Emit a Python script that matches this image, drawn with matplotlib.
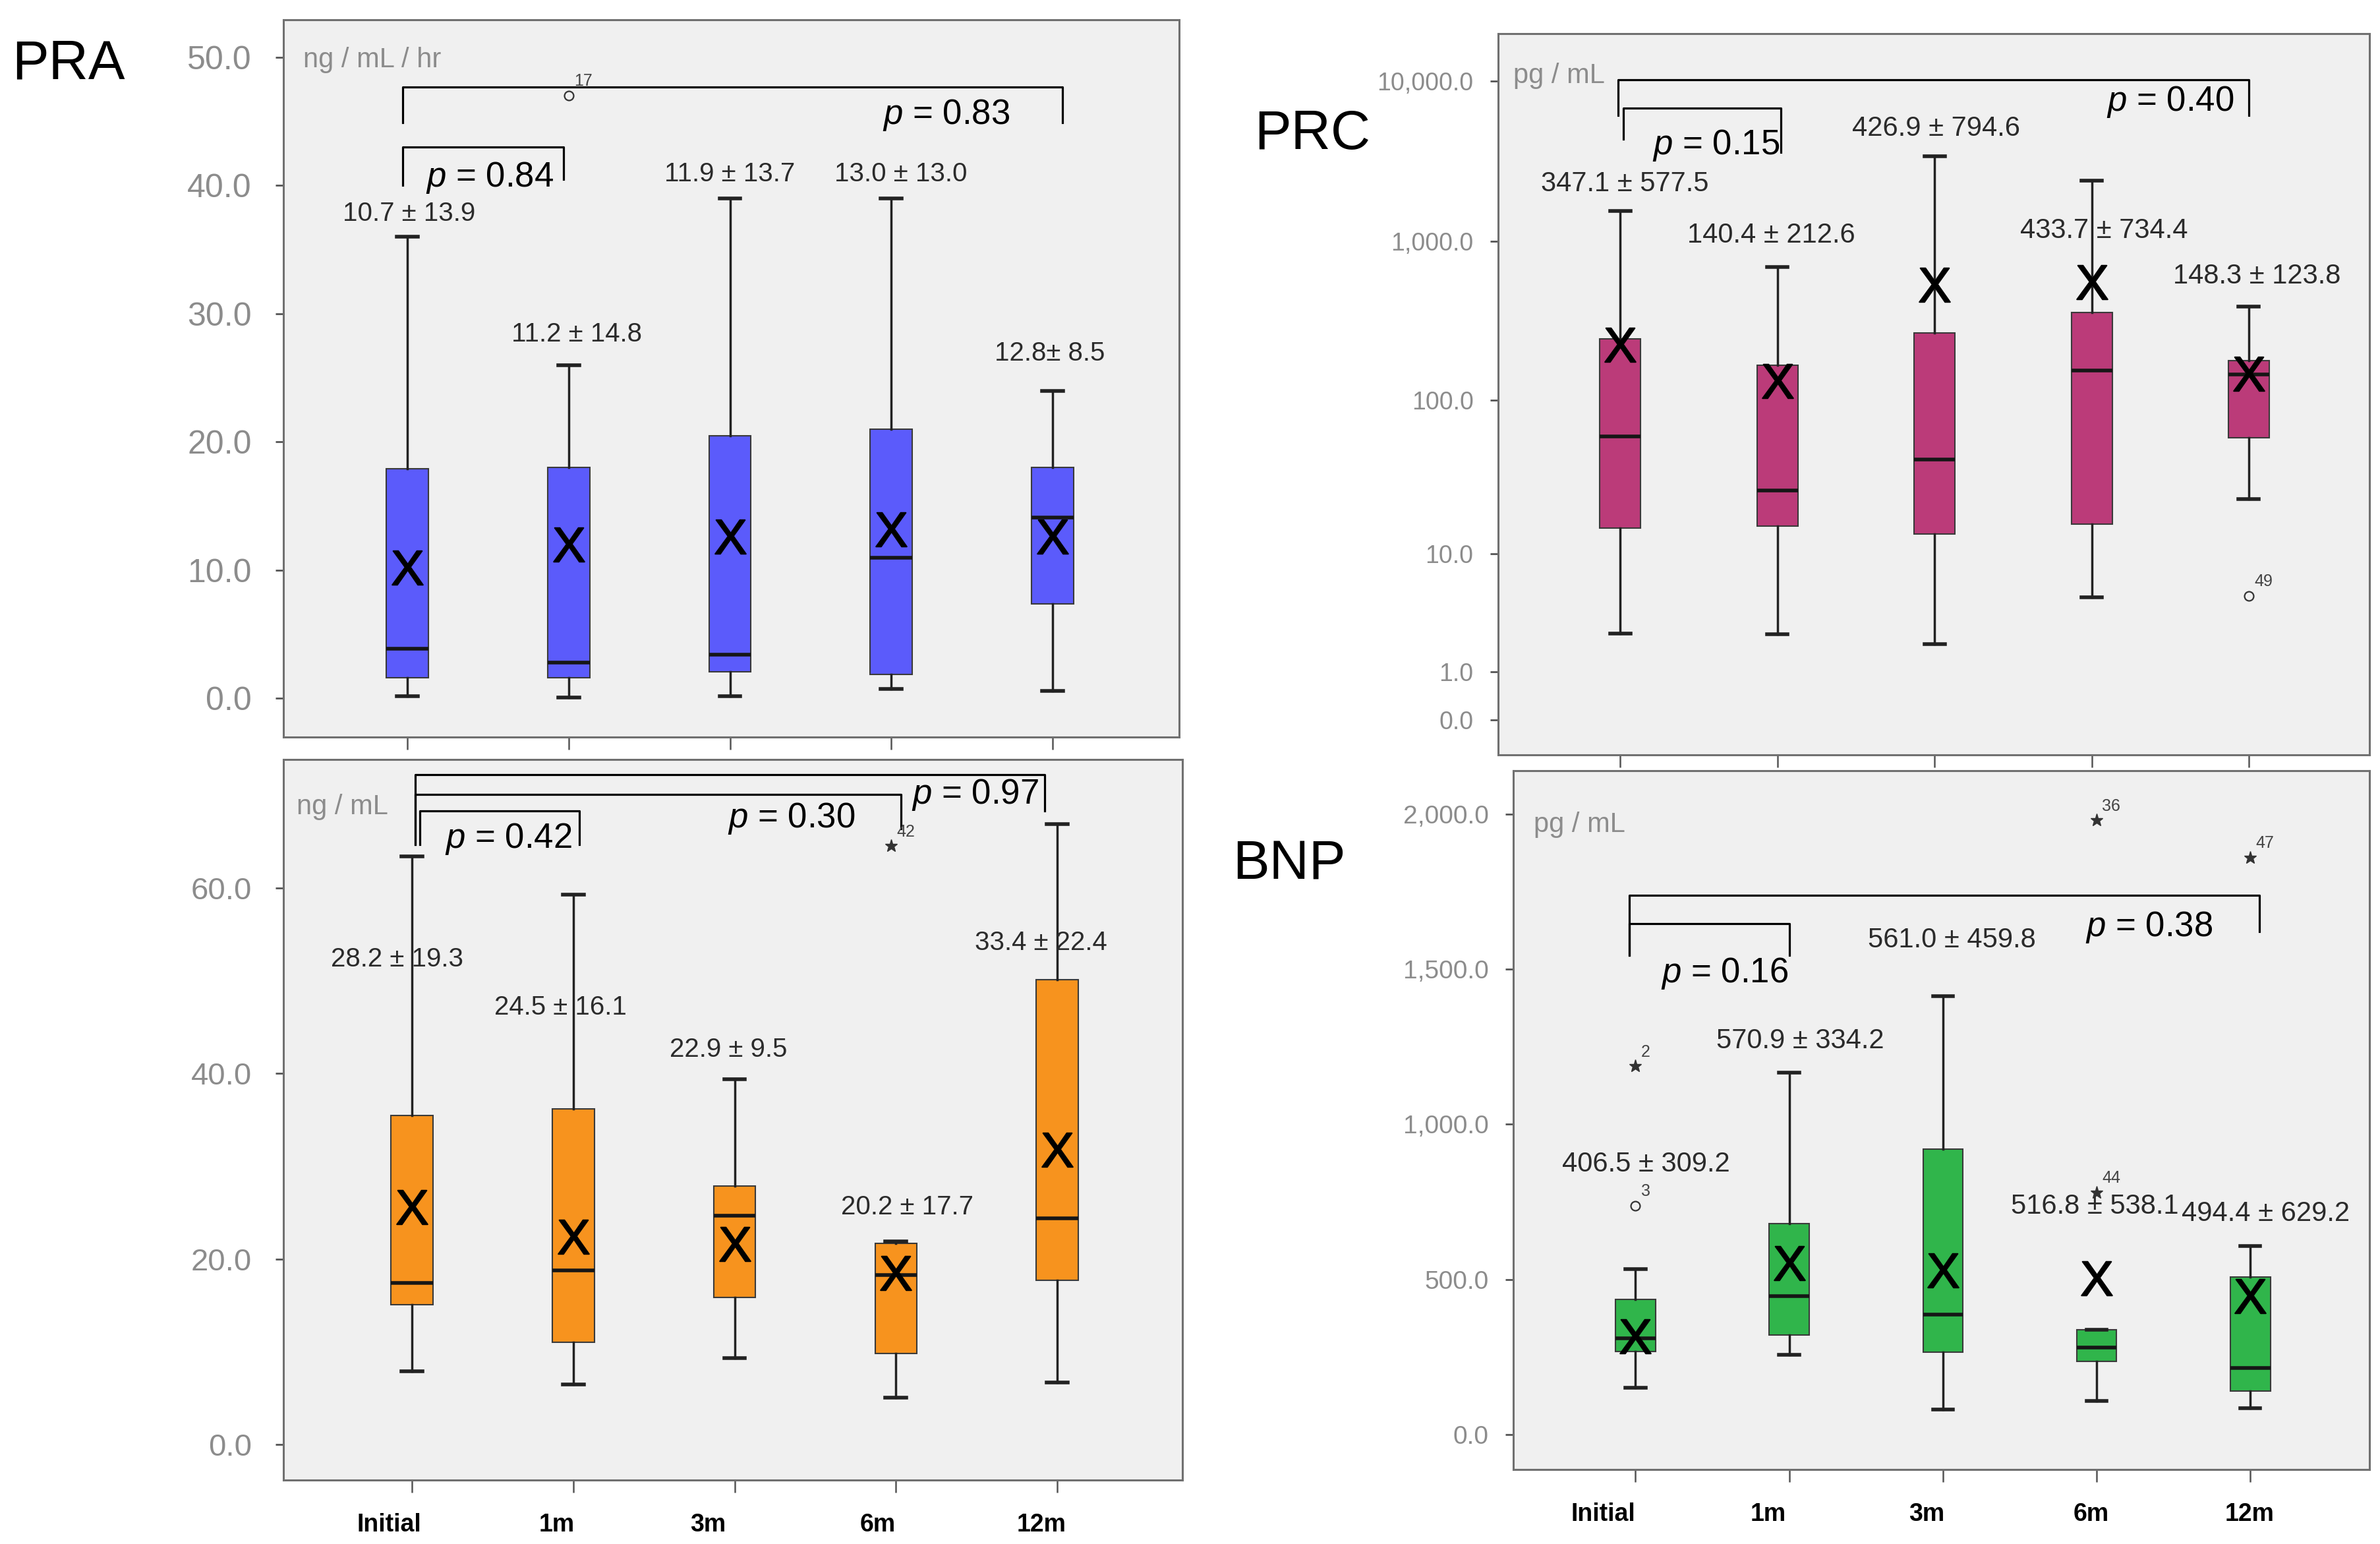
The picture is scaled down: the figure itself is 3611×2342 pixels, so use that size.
import matplotlib
matplotlib.use("Agg")
import matplotlib.pyplot as plt
import matplotlib.transforms as mtransforms
import numpy as np

plt.rcParams['font.family'] = ['Liberation Sans', 'DejaVu Sans']
plt.rcParams['mathtext.fontset'] = 'custom'
plt.rcParams['mathtext.rm'] = 'Liberation Sans'
plt.rcParams['mathtext.it'] = 'Liberation Sans:italic'

groups = ["Initial", "1m", "3m", "6m", "12m"]
pos = [1, 2, 3, 4, 5]

# ---- PRA (ng/mL/hr) ----
pra_lo = [0.2, 0.1, 0.2, 0.75, 0.6]
pra_q1 = [1.6, 1.6, 2.1, 1.9, 7.4]
pra_med = [3.9, 2.8, 3.4, 11.0, 14.1]
pra_q3 = [17.9, 18.0, 20.5, 21.0, 18.0]
pra_hi = [36.0, 26.0, 39.0, 39.0, 24.0]
pra_mean = [10.2, 12.0, 12.6, 13.2, 12.6]
pra_txt = ["10.7 ± 13.9", "11.2 ± 14.8", "11.9 ± 13.7", "13.0 ± 13.0", "12.8± 8.5"]
pra_txt_x = [1.01, 2.05, 3.0, 4.06, 4.98]
pra_txt_y = [37.8, 28.4, 40.9, 40.9, 26.9]
pra_out_x = [2]
pra_out_y = [47.0]
pra_out_m = ['o']
pra_out_lab = ['17']

# ---- PRC (pg/mL), log(x + 1) axis ----
prc_lo = [2.48, 2.44, 1.99, 4.86, 23.3]
prc_q1 = [15.0, 15.4, 13.6, 15.9, 57.6]
prc_med = [58.9, 26.3, 42.0, 154.0, 144.5]
prc_q3 = [242.0, 166.0, 265.0, 355.0, 178.0]
prc_hi = [1537.0, 686.0, 3411.0, 2397.0, 388.0]
prc_mean = [222.0, 132.0, 531.0, 550.0, 146.0]
prc_txt = ["347.1 ± 577.5", "140.4 ± 212.6", "426.9 ± 794.6", "433.7 ± 734.4", "148.3 ± 123.8"]
prc_txt_x = [1.03, 1.96, 3.01, 4.08, 5.05]
prc_txt_y = [2281, 1086, 5070, 1164, 602]
prc_out_x = [5]
prc_out_y = [4.98]
prc_out_m = ['o']
prc_out_lab = ['49']

# ---- lower left (ng/mL) ----
ald_lo = [7.9, 6.5, 9.3, 5.1, 6.7]
ald_q1 = [15.1, 11.0, 15.9, 9.8, 17.7]
ald_med = [17.4, 18.8, 24.7, 18.3, 24.4]
ald_q3 = [35.5, 36.2, 27.9, 21.7, 50.1]
ald_hi = [63.4, 59.3, 39.4, 21.9, 66.9]
ald_mean = [25.6, 22.4, 21.6, 18.5, 31.8]
ald_txt = ["28.2 ± 19.3", "24.5 ± 16.1", "22.9 ± 9.5", "20.2 ± 17.7", "33.4 ± 22.4"]
ald_txt_x = [0.91, 1.92, 2.96, 4.07, 4.90]
ald_txt_y = [52.3, 47.1, 42.6, 25.6, 54.1]
ald_out_x = [3.97]
ald_out_y = [64.5]
ald_out_m = ['*']
ald_out_lab = ['42']

# ---- BNP (pg/mL) ----
bnp_lo = [151, 257, 81, 109, 85]
bnp_q1 = [268, 320, 265, 236, 141]
bnp_med = [309, 447, 387, 280, 215]
bnp_q3 = [436, 680, 919, 338, 507]
bnp_hi = [533, 1167, 1413, 338, 607]
bnp_mean = [317, 553, 528, 504, 447]
bnp_txt = ["406.5 ± 309.2", "570.9 ± 334.2", "561.0 ± 459.8", "516.8 ± 538.1", "494.4 ± 629.2"]
bnp_txt_x = [1.07, 2.07, 3.06, 3.99, 5.10]
bnp_txt_y = [870, 1268, 1593, 735, 711]
bnp_out_x = [1, 1, 4, 4, 5]
bnp_out_y = [737, 1187, 1979, 780, 1859]
bnp_out_m = ['o', '*', '*', '*', '*']
bnp_out_lab = ['3', '2', '36', '44', '47']

# brackets: x0, x1, top, left leg bottom, right leg bottom
pra_br = [(0.97, 5.06, 47.7, 44.9, 44.9), (0.97, 1.97, 43.0, 40.0, 40.5)]
pra_p = [("0.83", 4.34, 45.5), ("0.84", 1.51, 40.6)]
prc_br = [(0.985, 5.0, 10280, 6150, 6150), (1.02, 2.02, 6823, 4354, 3581)]
prc_p = [("0.40", 4.50, 7413), ("0.15", 1.61, 3974)]
ald_br = [(1.02, 4.92, 72.2, 64.7, 68.3), (1.02, 4.03, 70.1, 64.7, 66.4),
          (1.05, 2.04, 68.3, 64.7, 64.7)]
ald_p = [("0.42", 1.60, 65.3), ("0.30", 3.35, 67.5), ("0.97", 4.49, 70.0)]
bnp_br = [(0.96, 5.06, 1737, 1545, 1621), (0.96, 2.0, 1646, 1545, 1545)]
bnp_p = [("0.38", 4.34, 1634), ("0.16", 1.58, 1485)]

BLUE = '#5b5bfb'
MAGENTA = '#bb3b79'
ORANGE = '#f7931e'
GREEN = '#30b54b'
TICKGRAY = '#8c8c8c'


def draw_panel(ax, lo, q1, med, q3, hi, mean, color, txt, tx, ty,
               ox, oy, om, olab, brackets, pvals, txtsize):
    ax.set_facecolor('#f0f0f0')
    stats = []
    for i in range(len(lo)):
        stats.append(dict(whislo=lo[i], q1=q1[i], med=med[i], q3=q3[i],
                          whishi=hi[i], mean=mean[i], fliers=[]))
    ax.bxp(stats, positions=pos, widths=0.26, patch_artist=True,
           showmeans=True, manage_ticks=False,
           boxprops=dict(facecolor=color, edgecolor='#3a3a3a', linewidth=1.5),
           medianprops=dict(color='#161616', linewidth=4),
           whiskerprops=dict(color='#222222', linewidth=2.5),
           capprops=dict(color='#222222', linewidth=4),
           meanprops=dict(marker=r'$\mathrm{X}$', markersize=37,
                          markerfacecolor='black', markeredgecolor='black',
                          markeredgewidth=1.5))
    for i in range(len(txt)):
        ax.text(tx[i], ty[i], txt[i], fontsize=txtsize, color='#2b2b2b',
                ha='center', va='center')
    for i in range(len(ox)):
        if om[i] == 'o':
            ax.plot(ox[i], oy[i], marker='o', ms=10, mfc='none', mec='#333333', mew=1.6)
        else:
            ax.plot(ox[i], oy[i], marker='*', ms=14, color='#333333')
        ax.annotate(olab[i], (ox[i], oy[i]), xytext=(6, 7), textcoords='offset points',
                    fontsize=18, color='#444444', ha='left', va='bottom')
    for x0, x1, top, lb, rb in brackets:
        ax.plot([x0, x0, x1, x1], [lb, top, top, rb], color='black', lw=2.3,
                solid_joinstyle='round')
    for val, px, py in pvals:
        ax.text(px, py, r'$p$ = ' + val, fontsize=38, color='black',
                ha='center', va='center')
    for s in ax.spines.values():
        s.set_color('#707070')
        s.set_linewidth(2.2)
    ax.set_xticks(pos)


fig = plt.figure(figsize=(36.11, 23.42), dpi=100)

ax1 = fig.add_axes([0.1192, 0.5227, 0.3763, 0.4643])
ax2 = fig.add_axes([0.6295, 0.5109, 0.3660, 0.4674])
ax3 = fig.add_axes([0.1192, 0.0415, 0.3776, 0.4664])
ax4 = fig.add_axes([0.6359, 0.0484, 0.3596, 0.4526])

# log(x + 1) axis for PRC
ax2.set_yscale('function', functions=(lambda v: np.log10(1 + np.clip(v, -0.999, None)),
                                      lambda v: 10 ** v - 1))

draw_panel(ax1, pra_lo, pra_q1, pra_med, pra_q3, pra_hi, pra_mean, BLUE,
           pra_txt, pra_txt_x, pra_txt_y, pra_out_x, pra_out_y, pra_out_m, pra_out_lab,
           pra_br, pra_p, 29)
draw_panel(ax2, prc_lo, prc_q1, prc_med, prc_q3, prc_hi, prc_mean, MAGENTA,
           prc_txt, prc_txt_x, prc_txt_y, prc_out_x, prc_out_y, prc_out_m, prc_out_lab,
           prc_br, prc_p, 30)
draw_panel(ax3, ald_lo, ald_q1, ald_med, ald_q3, ald_hi, ald_mean, ORANGE,
           ald_txt, ald_txt_x, ald_txt_y, ald_out_x, ald_out_y, ald_out_m, ald_out_lab,
           ald_br, ald_p, 29)
draw_panel(ax4, bnp_lo, bnp_q1, bnp_med, bnp_q3, bnp_hi, bnp_mean, GREEN,
           bnp_txt, bnp_txt_x, bnp_txt_y, bnp_out_x, bnp_out_y, bnp_out_m, bnp_out_lab,
           bnp_br, bnp_p, 30)

# y axes
ax1.set_xlim(0.234, 5.785)
ax1.set_ylim(-3.0, 52.9)
ax1.set_yticks([0, 10, 20, 30, 40, 50])
ax1.set_yticklabels(["0.0", "10.0", "20.0", "30.0", "40.0", "50.0"])
ax1.tick_params(axis='y', length=9, width=2, color='#555555', pad=26,
                labelsize=36, labelcolor=TICKGRAY)

ax2.set_xlim(0.223, 5.767)
ax2.set_ylim(10 ** -0.22 - 1, 10 ** 4.3 - 1)
ax2.set_yticks([0, 1, 10, 100, 1000, 10000])
ax2.set_yticklabels(["0.0", "1.0", "10.0", "100.0", "1,000.0", "10,000.0"])
ax2.yaxis.set_minor_locator(matplotlib.ticker.NullLocator())
ax2.tick_params(axis='y', length=9, width=2, color='#555555', pad=18,
                labelsize=27, labelcolor=TICKGRAY)

ax3.set_xlim(0.206, 5.775)
ax3.set_ylim(-3.8, 73.8)
ax3.set_yticks([0, 20, 40, 60])
ax3.set_yticklabels(["0.0", "20.0", "40.0", "60.0"])
ax3.tick_params(axis='y', length=9, width=2, color='#555555', pad=26,
                labelsize=34, labelcolor=TICKGRAY)

ax4.set_xlim(0.206, 5.774)
ax4.set_ylim(-112, 2140)
ax4.set_yticks([0, 500, 1000, 1500, 2000])
ax4.set_yticklabels(["0.0", "500.0", "1,000.0", "1,500.0", "2,000.0"])
ax4.tick_params(axis='y', length=9, width=2, color='#555555', pad=18,
                labelsize=28, labelcolor=TICKGRAY)

# x axes
for ax in (ax1, ax2):
    ax.tick_params(axis='x', length=14, width=1.8, color='#555555', labelbottom=False)

# the category labels sit a little left of their ticks in the original
label_shift = {ax3: [-25, -18, -29, -20, -17], ax4: [-35, -23, -18, -6, -1]}
for ax in (ax3, ax4):
    ax.set_xticklabels(groups)
    ax.tick_params(axis='x', length=14, width=1.8, color='#555555', pad=22,
                   labelsize=27)
    for lab, dx in zip(ax.get_xticklabels(), label_shift[ax]):
        lab.set_fontweight('bold')
        shift = mtransforms.ScaledTranslation(dx / 72, 0, fig.dpi_scale_trans)
        lab.set_transform(lab.get_transform() + shift)

# unit labels
ax1.text(0.354, 49.8, "ng / mL / hr", fontsize=30, color=TICKGRAY, ha='left', va='center')
ax2.text(0.32, 10870, "pg / mL", fontsize=30, color=TICKGRAY, ha='left', va='center')
ax3.text(0.285, 68.7, "ng / mL", fontsize=30, color=TICKGRAY, ha='left', va='center')
ax4.text(0.34, 1964, "pg / mL", fontsize=30, color=TICKGRAY, ha='left', va='center')

# panel labels
fig.text(0.0051, 0.9585, "PRA", fontsize=60, ha='left', va='center')
fig.text(0.527, 0.913, "PRC", fontsize=60, ha='left', va='center')
fig.text(0.518, 0.440, "BNP", fontsize=60, ha='left', va='center')

fig.savefig("out.png", dpi=100, facecolor='white')
